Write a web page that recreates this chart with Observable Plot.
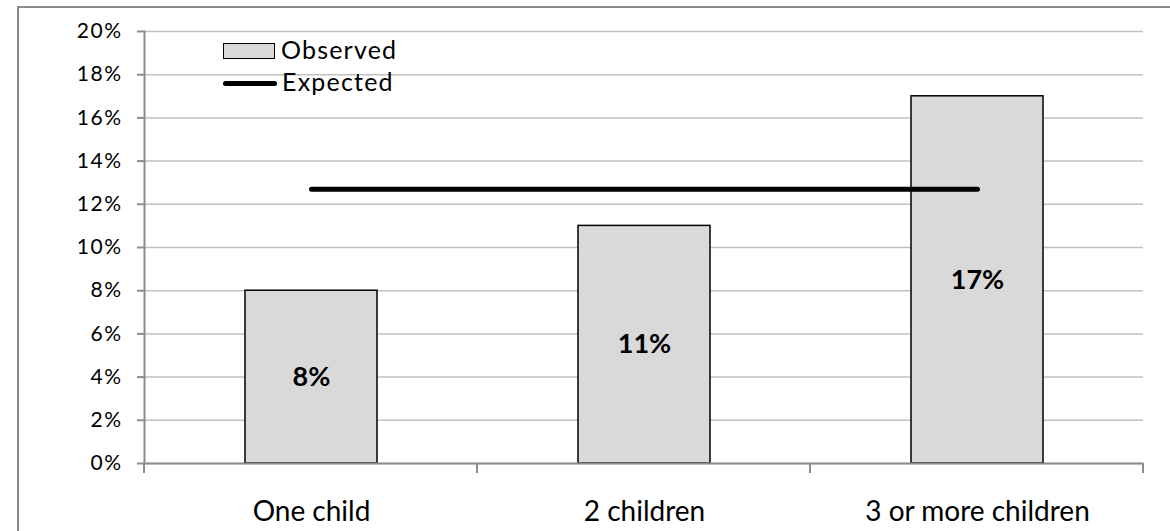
<!DOCTYPE html>
<html>
<head>
<meta charset="utf-8">
<script src="https://cdn.jsdelivr.net/npm/d3@7"></script>
<script src="https://cdn.jsdelivr.net/npm/@observablehq/plot@0.6"></script>
<style>
  html, body { margin: 0; padding: 0; background: #fff; }
  #wrap { position: relative; width: 1170px; height: 531px; overflow: hidden; font-family: Lato, "Open Sans", sans-serif; }
  #border { position: absolute; left: 17px; top: 6px; width: 2000px; height: 1000px; border-left: 2px solid #8c8c8c; border-top: 2px solid #8c8c8c; }
  #chart { position: absolute; left: 0; top: 0; }
  #legend { position: absolute; left: 223px; top: 35px; font-size: 25px; color: #000; letter-spacing: 1.2px; }
  .li { display: flex; align-items: center; height: 32px; }
  .li span { position: relative; top: -2px; }
  .sw-bar { width: 50px; height: 14px; background: #d9d9d9; border: 1.5px solid #000; margin-right: 6px; box-sizing: content-box; }
  .sw-line { width: 54px; height: 5px; background: #000; border-radius: 3px; margin-right: 5px; }
  #chart svg .ytl text { font-size: 21px; letter-spacing: 1.5px; }
</style>
</head>
<body>
<div id="wrap">
  <div id="border"></div>
  <div id="chart"></div>
  <div id="legend"></div>
</div>
<script>
const categories = ["One child", "2 children", "3 or more children"];
const observed = [0.08, 0.11, 0.17];
const expected = 0.127;
const yTicks = [0, 0.02, 0.04, 0.06, 0.08, 0.10, 0.12, 0.14, 0.16, 0.18, 0.20];
const seriesNames = ["Observed", "Expected"];

const bars = categories.map((c, i) => ({category: c, value: observed[i]}));
const expLine = categories.map(c => ({category: c, value: expected}));

const W = 1170, H = 531;
const margins = {left: 144, right: 27, top: 31, bottom: 68};

// boundary ticks between categories on the x axis (render-function mark)
function boundaryTicks(index, scales, values, dims) {
  const g = d3.create("svg:g");
  const step = (dims.width - dims.marginLeft - dims.marginRight) / categories.length;
  const y0 = scales.y(0);
  for (let i = 0; i <= categories.length; i++) {
    const x = dims.marginLeft + i * step;
    g.append("line").attr("x1", x).attr("x2", x).attr("y1", y0).attr("y2", y0 + 10)
      .attr("stroke", "#8c8c8c").attr("stroke-width", 2);
  }
  return g.node();
}

const chart = Plot.plot({
  width: W,
  height: H,
  marginLeft: margins.left,
  marginRight: margins.right,
  marginTop: margins.top,
  marginBottom: margins.bottom,
  style: {fontFamily: "Lato, 'Open Sans', sans-serif", color: "#000", background: "transparent"},
  x: {domain: categories, paddingInner: 0.604, paddingOuter: 0.302, label: null},
  y: {domain: [0, 0.2], label: null},
  marks: [
    Plot.gridY(yTicks, {stroke: "#c0c0c0", strokeOpacity: 1, strokeWidth: 1.5}),
    Plot.axisY(yTicks, {tickFormat: d3.format(".0%"), tickSize: 7, tickPadding: 15, fontSize: 21, stroke: "#8c8c8c", strokeWidth: 2, label: null}),
    Plot.axisX({tickSize: 0, tickPadding: 38, fontSize: 28, label: null}),
    Plot.barY(bars, {x: "category", y: "value", fill: "#d9d9d9", stroke: "#000", strokeWidth: 1.5}),
    Plot.frame({anchor: "left", stroke: "#8c8c8c", strokeWidth: 2}),
    Plot.ruleY([0], {stroke: "#8c8c8c", strokeWidth: 2}),
    boundaryTicks,
    Plot.text(bars, {x: "category", y: d => d.value / 2, text: d => d3.format(".0%")(d.value), fontSize: 27, fontWeight: "bold", fill: "#000"}),
    Plot.lineY(expLine, {x: "category", y: "value", stroke: "#000", strokeWidth: 5, strokeLinecap: "round"})
  ]
});
document.getElementById("chart").appendChild(chart);
// tag y-axis tick labels for styling
chart.querySelectorAll('g[aria-label="y-axis tick label"]').forEach(g => g.classList.add("ytl"));

const legend = document.getElementById("legend");
legend.innerHTML =
  `<div class="li"><div class="sw-bar"></div><span>${seriesNames[0]}</span></div>` +
  `<div class="li"><div class="sw-line"></div><span>${seriesNames[1]}</span></div>`;
</script>
</body>
</html>
